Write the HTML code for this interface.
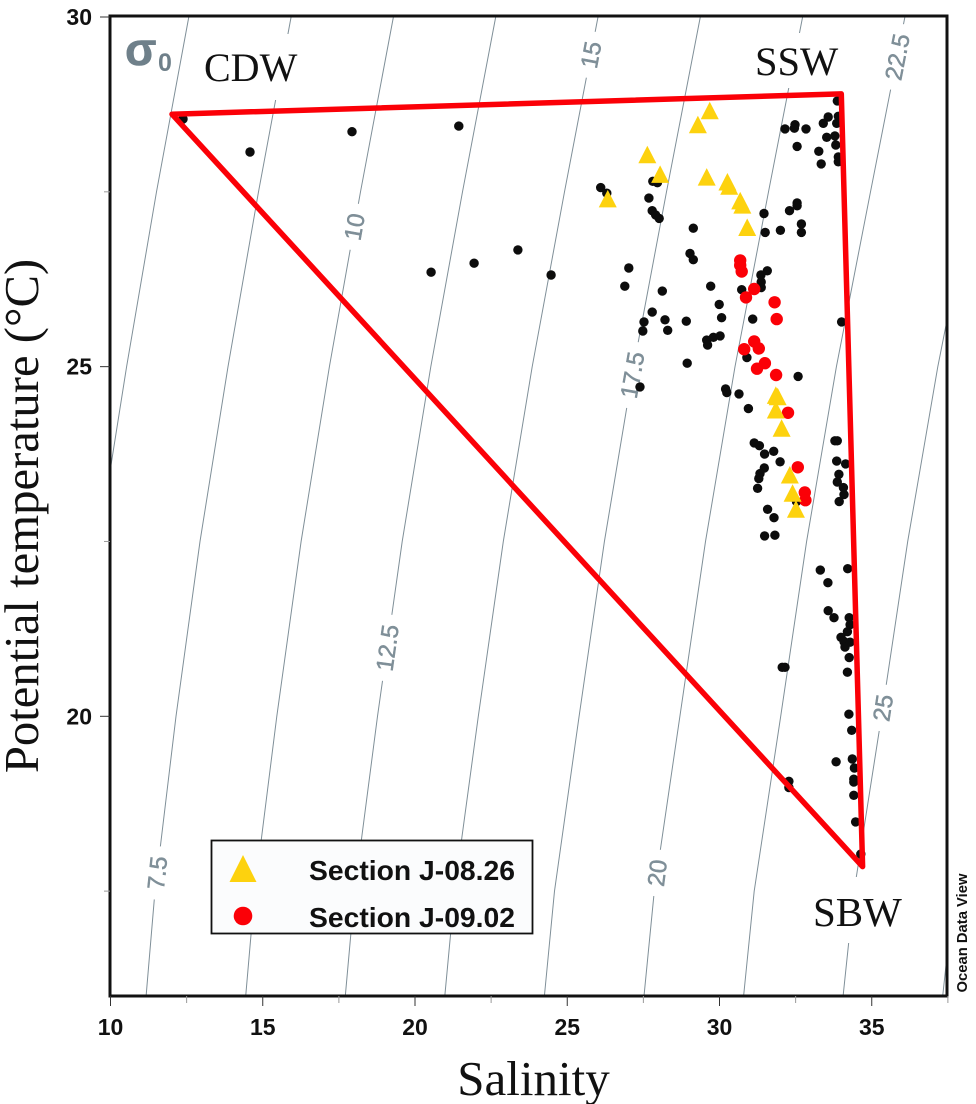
<!DOCTYPE html>
<html>
<head>
<meta charset="utf-8">
<title>Potential temperature vs Salinity</title>
<style>
html,body{margin:0;padding:0;background:#fff;}
svg{display:block;}
</style>
</head>
<body>
<svg id="chart" xmlns="http://www.w3.org/2000/svg" width="976" height="1104" viewBox="0 0 976 1104">
<defs><clipPath id="plot-clip"><rect x="110" y="16" width="837" height="980"/></clipPath></defs>
<rect x="0" y="0" width="976" height="1104" fill="#fff"/>
<g id="isopycnals" clip-path="url(#plot-clip)"></g>
<g id="text-boxes"></g>
<g id="background-points"></g>
<g id="red-points"></g>
<g id="yellow-points"></g>
<g id="axes"></g>
<polygon id="mixing-triangle" fill="none" stroke="#fb0007" stroke-width="5.5" stroke-linejoin="round"></polygon>
<text x="125" y="65" font-family="'Liberation Sans',sans-serif" font-weight="700" font-size="46" fill="#6f808a" stroke="#6f808a" stroke-width="0.6">σ</text>
<text x="158" y="71" font-family="'Liberation Sans',sans-serif" font-weight="700" font-size="25" fill="#6f808a">0</text>
<text x="204" y="81" font-family="'Liberation Serif',serif" font-size="40" fill="#111">CDW</text>
<text x="755" y="75" font-family="'Liberation Serif',serif" font-size="40.5" fill="#111">SSW</text>
<text x="813" y="926" font-family="'Liberation Serif',serif" font-size="41" fill="#111">SBW</text>
<text transform="translate(38,516) rotate(-90)" text-anchor="middle" font-family="'Liberation Serif',serif" font-size="48.7" fill="#111">Potential temperature (°C)</text>
<text x="533.5" y="1095" text-anchor="middle" font-family="'Liberation Serif',serif" font-size="49" fill="#111">Salinity</text>
<text transform="translate(967,933) rotate(-90)" text-anchor="middle" font-family="'Liberation Sans',sans-serif" font-weight="700" font-size="14.8" fill="#111">Ocean Data View</text>
<g>
<rect x="211.5" y="840.5" width="321" height="93" fill="#fbfcfd" stroke="#111" stroke-width="1.8"/>
<polygon points="243,855 256.5,882 229.5,882" fill="#fdd20e"/>
<circle cx="243" cy="916" r="9.3" fill="#fb0007"/>
<text x="309" y="880" font-family="'Liberation Sans',sans-serif" font-weight="700" font-size="28" fill="#111" textLength="206" lengthAdjust="spacingAndGlyphs">Section J-08.26</text>
<text x="309" y="927" font-family="'Liberation Sans',sans-serif" font-weight="700" font-size="28" fill="#111" textLength="206" lengthAdjust="spacingAndGlyphs">Section J-09.02</text>
</g>
</svg>
<script>
// ---- chart data ----
const xTickValues = [10, 15, 20, 25, 30, 35];
const xMinorValues = [12.5, 17.5, 22.5, 27.5, 32.5, 37.5];
const yTickValues = [30, 25, 20];
const yMinorValues = [27.5, 22.5, 17.5];

const isoTemperatures = [30, 27.5, 25, 22.5, 20, 17.5, 16];
const isoLevels = ["5", "7.5", "10", "12.5", "15", "17.5", "20", "22.5", "25", "27.5"];
const iso5 = [12.57, 11.51, 10.53, 9.62, 8.84, 8.18, 7.90];
const iso7_5 = [15.93, 14.86, 13.86, 12.94, 12.15, 11.46, 11.17];
const iso10 = [19.29, 18.21, 17.19, 16.26, 15.46, 14.74, 14.44];
const iso12_5 = [22.65, 21.56, 20.52, 19.58, 18.77, 18.02, 17.71];
const iso15 = [26.01, 24.91, 23.85, 22.90, 22.08, 21.30, 20.98];
const iso17_5 = [29.37, 28.26, 27.18, 26.22, 25.39, 24.58, 24.25];
const iso20 = [32.73, 31.61, 30.51, 29.54, 28.70, 27.86, 27.52];
const iso22_5 = [36.09, 34.96, 33.84, 32.86, 32.01, 31.14, 30.79];
const iso25 = [39.45, 38.31, 37.17, 36.18, 35.32, 34.42, 34.06];
const iso27_5 = [42.81, 41.66, 40.50, 39.50, 38.64, 37.70, 37.33];

const labelLevels = ["7.5", "10", "12.5", "15", "17.5", "20", "22.5", "25"];
const labelTemperatures = [17.76, 27.0, 20.98, 29.46, 24.88, 17.76, 29.43, 20.12];

const triangleSalinity = [12.02, 34.0, 34.7];
const triangleTemperature = [28.61, 28.9, 17.85];

const blackSalinity = [12.38,14.58,17.93,21.44,20.53,21.94,23.38,24.47,
33.87,33.57,33.41,33.90,33.85,32.15,32.48,32.46,32.84,33.52,33.79,33.82,32.55,33.26,33.90,33.90,33.34,
26.10,26.30,27.81,27.96,27.68,27.79,27.90,28.02,29.14,29.03,29.14,27.02,26.89,28.12,29.71,30.73,31.36,31.57,31.37,31.37,
29.99,30.07,31.09,27.79,28.21,27.52,27.48,28.30,28.91,34.01,31.46,32.30,32.55,32.55,32.69,32.69,32.00,31.50,
29.58,29.80,30.02,29.61,30.90,28.94,27.39,32.58,30.20,30.24,30.64,30.95,31.14,31.31,31.48,31.78,31.99,31.47,31.33,31.29,31.25,
31.58,31.79,31.48,31.82,33.79,33.87,33.85,34.14,33.92,33.87,34.07,34.09,33.93,32.53,
33.31,34.21,33.56,33.57,33.76,34.26,34.29,34.20,33.99,34.09,34.29,34.12,34.26,34.20,32.06,32.15,
34.25,34.34,33.83,34.36,34.43,34.41,34.41,34.41,32.28,32.28,34.47,34.64];
const blackTemperature = [28.54,28.07,28.36,28.44,26.35,26.48,26.67,26.31,
28.80,28.57,28.48,28.58,28.48,28.40,28.46,28.41,28.40,28.28,28.30,28.17,28.15,28.08,28.00,27.93,27.90,
27.56,27.48,27.65,27.63,27.41,27.23,27.17,27.12,26.98,26.62,26.53,26.41,26.15,26.08,26.15,26.10,26.31,26.37,26.21,26.13,
25.89,25.70,25.68,25.78,25.67,25.64,25.51,25.52,25.65,25.64,27.19,27.23,27.34,27.30,27.04,26.92,26.95,26.92,
25.38,25.42,25.44,25.31,25.13,25.05,24.71,24.86,24.68,24.63,24.61,24.40,23.91,23.87,23.75,23.79,23.64,23.55,23.47,23.40,23.26,
22.96,22.84,22.58,22.59,23.94,23.94,23.65,23.61,23.46,23.35,23.27,23.17,23.07,23.07,
22.09,22.11,21.91,21.51,21.41,21.41,21.31,21.21,21.13,21.07,21.06,20.99,20.84,20.63,20.70,20.70,
20.03,19.80,19.35,19.39,19.26,19.10,19.06,18.87,19.07,18.98,18.49,18.03];

const yellowSalinity = [29.68,29.29,27.63,28.05,26.33,29.58,30.26,30.32,30.68,30.75,30.91,31.85,31.91,31.85,32.04,32.31,32.40,32.51];
const yellowTemperature = [28.66,28.46,28.03,27.75,27.40,27.71,27.64,27.58,27.37,27.31,26.99,24.59,24.57,24.38,24.12,23.45,23.19,22.96];

const redSalinity = [30.68,30.68,30.73,31.14,30.87,31.81,31.88,31.14,31.29,30.81,31.49,31.23,31.86,32.25,32.57,32.80,32.82];
const redTemperature = [26.52,26.45,26.36,26.11,25.99,25.92,25.68,25.36,25.26,25.25,25.05,24.97,24.88,24.34,23.56,23.20,23.09];

const isoSeries = [iso5, iso7_5, iso10, iso12_5, iso15, iso17_5, iso20, iso22_5, iso25, iso27_5];

// ---- axis functions ----
const SVGNS = 'http://www.w3.org/2000/svg';
function xScale(s){ return 110.5 + (s - 10) * 30.45; }
function yScale(t){ return 17 + (30 - t) * 69.93; }
function mk(tag, parent, attrs){
  const el = document.createElementNS(SVGNS, tag);
  for (const k in attrs) el.setAttribute(k, attrs[k]);
  parent.appendChild(el);
  return el;
}
function isoSalinityAt(series, t){
  for (let i = 0; i < isoTemperatures.length - 1; i++){
    const a = isoTemperatures[i], b = isoTemperatures[i + 1];
    if (t <= a && t >= b){
      return series[i] + (series[i + 1] - series[i]) * (a - t) / (a - b);
    }
  }
  return series[series.length - 1];
}

// isopycnal lines
const isoGroup = document.getElementById('isopycnals');
isoSeries.forEach(function(series, i){
  const pts = series.map(function(s, j){ return xScale(s).toFixed(1) + ',' + yScale(isoTemperatures[j]).toFixed(1); }).join(' ');
  const line = mk('polyline', isoGroup, {points: pts, fill: 'none', stroke: '#7f8f98', 'stroke-width': 1});
  
  
});

// isopycnal labels with white gaps
labelLevels.forEach(function(level, i){
  const series = isoSeries[isoLevels.indexOf(level)];
  const t = labelTemperatures[i];
  const s = isoSalinityAt(series, t);
  const x = xScale(s), y = yScale(t);
  const tHigh = Math.min(30, t + 1), tLow = Math.max(16, t - 1);
  const dx = xScale(isoSalinityAt(series, tHigh)) - xScale(isoSalinityAt(series, tLow));
  const dy = yScale(tHigh) - yScale(tLow);
  const angle = Math.atan2(dy, dx) * 180 / Math.PI;
  const g = mk('g', isoGroup, {transform: 'translate(' + x.toFixed(1) + ',' + y.toFixed(1) + ') rotate(' + angle.toFixed(1) + ')'});
  
  
  const box = mk('rect', g, {fill: '#fff'});
  const label = mk('text', g, {'text-anchor': 'middle', y: 8.5, 'font-family': "'Liberation Sans',sans-serif", 'font-size': 24, fill: '#7f8f98', stroke: '#7f8f98', 'stroke-width': 0.5});
  label.textContent = level;
  const w = label.getComputedTextLength() + 20;
  box.setAttribute('x', -w / 2);
  box.setAttribute('y', -5);
  box.setAttribute('width', w);
  box.setAttribute('height', 10);
});

// white boxes behind water-mass names
const textBoxes = document.getElementById('text-boxes');
mk('rect', textBoxes, {x: 200, y: 34, width: 100, height: 66, fill: '#fff'});
mk('rect', textBoxes, {x: 752, y: 33, width: 90, height: 55, fill: '#fff'});
mk('rect', textBoxes, {x: 810, y: 877, width: 95, height: 66, fill: '#fff'});

// points
const bgGroup = document.getElementById('background-points');
blackSalinity.forEach(function(s, i){
  const c = mk('circle', bgGroup, {cx: xScale(s).toFixed(1), cy: yScale(blackTemperature[i]).toFixed(1), r: 4.7, fill: '#0c0c0c'});
  
  
});
const redGroup = document.getElementById('red-points');
redSalinity.forEach(function(s, i){
  const c = mk('circle', redGroup, {cx: xScale(s).toFixed(1), cy: yScale(redTemperature[i]).toFixed(1), r: 6.2, fill: '#fb0007'});
  
  
});
const yellowGroup = document.getElementById('yellow-points');
yellowSalinity.forEach(function(s, i){
  const x = xScale(s), y = yScale(yellowTemperature[i]);
  const p = mk('polygon', yellowGroup, {points: x + ',' + (y - 9) + ' ' + (x + 9) + ',' + (y + 8.5) + ' ' + (x - 9) + ',' + (y + 8.5), fill: '#fdd20e'});
  
  
});

// axes
const axes = document.getElementById('axes');
const frame = mk('rect', axes, {x: 110, y: 16, width: 837, height: 980, fill: 'none', stroke: '#111', 'stroke-width': 3});


xTickValues.forEach(function(v){
  const x = xScale(v);
  const tick = mk('line', axes, {x1: x, x2: x, y1: 996, y2: 1006, stroke: '#333', 'stroke-width': 1});
  
  
  const t = mk('text', axes, {x: x, y: 1035, 'text-anchor': 'middle', 'font-family': "'Liberation Sans',sans-serif", 'font-weight': 700, 'font-size': 23, fill: '#111'});
  t.textContent = v;
  
  
});
xMinorValues.forEach(function(v){
  const x = xScale(v);
  const tick = mk('line', axes, {x1: x, x2: x, y1: 996, y2: 1003, stroke: '#999', 'stroke-width': 1});
  
  
});
yTickValues.forEach(function(v){
  const y = yScale(v);
  const tick = mk('line', axes, {x1: 100, x2: 110, y1: y, y2: y, stroke: '#333', 'stroke-width': 1});
  
  
  const t = mk('text', axes, {x: 92, y: y + 8, 'text-anchor': 'end', 'font-family': "'Liberation Sans',sans-serif", 'font-weight': 700, 'font-size': 23, fill: '#111'});
  t.textContent = v;
  
  
});
yMinorValues.forEach(function(v){
  const y = yScale(v);
  const tick = mk('line', axes, {x1: 104, x2: 110, y1: y, y2: y, stroke: '#999', 'stroke-width': 1});
  
  
});

// mixing triangle
document.getElementById('mixing-triangle').setAttribute('points', triangleSalinity.map(function(s, i){
  return xScale(s).toFixed(1) + ',' + yScale(triangleTemperature[i]).toFixed(1);
}).join(' '));
</script>
</body>
</html>
